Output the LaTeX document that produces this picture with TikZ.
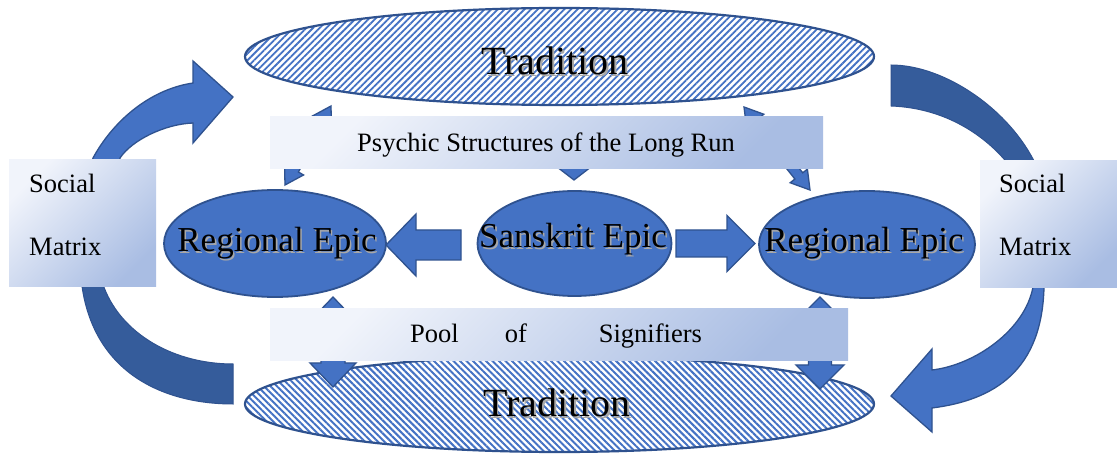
\documentclass[tikz,border=0pt]{standalone}
\usepackage{fontspec}
\setmainfont{Liberation Serif}
\usetikzlibrary{calc,patterns.meta,shapes.geometric}
\definecolor{acc}{HTML}{4472C4}
\definecolor{bord}{HTML}{2F528F}
\definecolor{darkband}{HTML}{355C9B}
\definecolor{boxA}{HTML}{F1F4FB}
\definecolor{boxB}{HTML}{A9BDE3}
\definecolor{shad}{HTML}{A8A8A8}
\tikzset{
  blk/.style={fill=acc, draw=bord, line width=1.3pt, line join=miter},
  band/.style={fill=darkband, draw=bord, line width=1pt},
  gbox/.style={draw=none, top color=boxA, bottom color=boxB, shading angle=45, inner sep=0pt, anchor=north west},
  trad/.style={ellipse, draw=bord, line width=2.2pt, inner sep=0pt, preaction={fill=white}},
  epic/.style={ellipse, draw=bord, line width=1.8pt, fill=acc, inner sep=0pt},
  bigtxt/.style={font=\fontsize{40}{44}\selectfont, anchor=base, inner sep=0pt},
  epictxt/.style={font=\fontsize{35}{40}\selectfont, anchor=base, inner sep=0pt},
  smalltxt/.style={font=\fontsize{26.5}{30}\selectfont, inner sep=0pt},
}
\newcommand\myshtxt[4]{%
  \node[#3, text=shad] (#1s) at ($(#2)+(1.6,1.6)$) {#4};
  \node[#3] (#1) at (#2) {#4};}
% double block arrow between two coordinates: head length, head half width, shaft half width
\newcommand\mydbl[5]{%
  \path ($(#1)!#3!(#2)$) coordinate (u1) ($(#2)!#3!(#1)$) coordinate (u2);
  \draw[blk] (#1) -- ($(u1)!#4!90:(#2)$) -- ($(u1)!#5!90:(#2)$) -- ($(u2)!#5!-90:(#1)$)
    -- ($(u2)!#4!-90:(#1)$) -- (#2) -- ($(u2)!#4!90:(#1)$) -- ($(u2)!#5!90:(#1)$)
    -- ($(u1)!#5!-90:(#2)$) -- ($(u1)!#4!-90:(#2)$) -- cycle;}
% single block arrow from #1 to tip #2
\newcommand\mysgl[5]{%
  \path ($(#2)!#3!(#1)$) coordinate (v1);
  \draw[blk] ($(#1)!#5!90:(#2)$) -- ($(v1)!#5!90:(#2)$) -- ($(v1)!#4!90:(#2)$) -- (#2)
    -- ($(v1)!#4!-90:(#2)$) -- ($(v1)!#5!-90:(#2)$) -- ($(#1)!#5!-90:(#2)$) -- cycle;}
\begin{document}
\begin{tikzpicture}[x=1pt, y=-1pt]
\fill[white] (0,0) rectangle (1117,454);
\useasboundingbox (0,0) rectangle (1117,454);

% curved arrows and bands (behind the Social Matrix boxes)
\draw[band] (891,65) .. controls (945,65) and (1010,110) .. (1036,165) -- (1040,175)
  -- (1012,175) -- (1009,165) .. controls (985,135) and (945,108) .. (891,106) -- cycle;
\draw[band] (80,270) -- (81,278) .. controls (90,370) and (160,404) .. (233,404)
  -- (233,364) .. controls (170,364) and (115,330) .. (101,278) -- (100,270) -- cycle;
\draw[blk] (90,172) -- (93,158) .. controls (112,123) and (148,89.75) .. (193,83)
  -- (193,61) -- (233,97) -- (193,143) -- (193,123)
  .. controls (165,124) and (132,140) .. (120,158) -- (118,172) -- cycle;
\draw[blk] (1031,278) -- (1033,287) .. controls (1025,330) and (975,365) .. (932,370)
  -- (932,349) -- (891,396) -- (932,432) -- (932,408)
  .. controls (995,400) and (1042,370) .. (1044,287) -- (1045,278) -- cycle;

% Tradition ellipses
\node[trad, minimum width=629pt, minimum height=97pt,
  pattern={Lines[angle=45,distance=4.7pt,line width=1.8pt]}, pattern color=acc] (tradT) at (559.5,56.5) {};
\node[trad, minimum width=629pt, minimum height=96pt,
  pattern={Lines[angle=-45,distance=4.6pt,line width=2pt]}, pattern color=acc] (tradB) at (559.5,404) {};

% small double arrows (partly behind the bars)
\coordinate (a1) at (285,185); \coordinate (b1) at (331,106);
\mydbl{a1}{b1}{18pt}{11pt}{5pt}
\coordinate (a2) at (810,190); \coordinate (b2) at (744,107);
\mydbl{a2}{b2}{18pt}{11pt}{5pt}
\coordinate (c1) at (574,125); \coordinate (c2) at (574,180);
\mysgl{c1}{c2}{20pt}{26pt}{13pt}
\coordinate (d1) at (333,297); \coordinate (d2) at (333,387);
\mydbl{d1}{d2}{24pt}{23pt}{12pt}
\coordinate (e1) at (820,297); \coordinate (e2) at (820,389);
\mydbl{e1}{e2}{24pt}{24pt}{11.5pt}

% epic ellipses
\node[epic, minimum width=222pt, minimum height=107pt] (regL) at (275,243.5) {};
\node[epic, minimum width=194pt, minimum height=105pt] (sans) at (574.5,243.5) {};
\node[epic, minimum width=216pt, minimum height=107pt] (regR) at (867,244.5) {};

% block arrows from Sanskrit Epic to Regional Epics
\coordinate (f1) at (461,245); \coordinate (f2) at (386,245);
\mysgl{f1}{f2}{30pt}{31pt}{15pt}
\coordinate (g1) at (676,243.5); \coordinate (g2) at (755,243.5);
\mysgl{g1}{g2}{28pt}{28pt}{13.5pt}

% gradient bars and boxes
\node[gbox, minimum width=553pt, minimum height=52pt] (psy) at (270,116) {};
\node[gbox, minimum width=578pt, minimum height=52pt] (pool) at (270,308) {};
\node[gbox, minimum width=147pt, minimum height=127pt] (socL) at (9,159) {};
\node[gbox, minimum width=137pt, minimum height=127pt] (socR) at (980,160) {};

% texts
\myshtxt{tTop}{555,75}{bigtxt}{Tradition}
\myshtxt{tBot}{557,417}{bigtxt}{Tradition}
\myshtxt{tRegL}{277,252}{epictxt}{Regional Epic}
\myshtxt{tSans}{573,248}{epictxt}{Sanskrit Epic}
\myshtxt{tRegR}{864,252}{epictxt}{Regional Epic}
\node[smalltxt, anchor=base] (psyt) at (546,152) {Psychic Structures of the Long Run};
\node[smalltxt, anchor=base west] (poolt) at (410,343) {Pool\hspace{46pt}of\hspace{72pt}Signifiers};
\node[smalltxt, anchor=base west] (socLt) at (29,193) {Social};
\node[smalltxt, anchor=base west] (matLt) at (29,256) {Matrix};
\node[smalltxt, anchor=base west] (socRt) at (999,193) {Social};
\node[smalltxt, anchor=base west] (matRt) at (999,256) {Matrix};
\end{tikzpicture}
\end{document}
